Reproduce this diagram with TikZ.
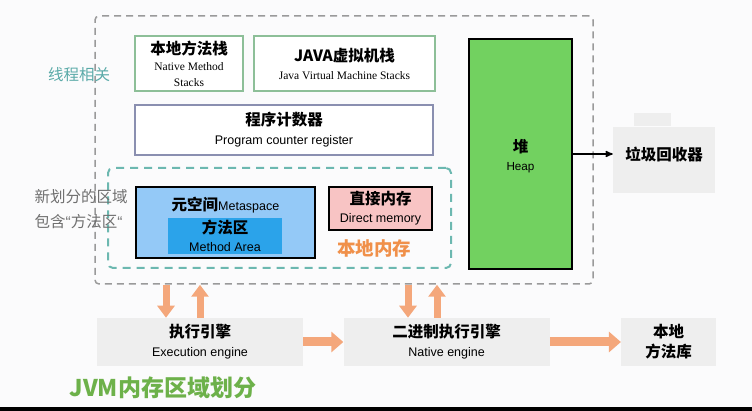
\documentclass[tikz,border=0pt]{standalone}
\usepackage{fontspec}
\setmainfont{Liberation Sans}
\newfontfamily\cjk{Noto Sans CJK SC}
\newfontfamily\tms{Liberation Serif}
\usepackage{xcolor}
\usetikzlibrary{arrows,arrows.meta}
\usetikzlibrary{calc}
\usetikzlibrary{positioning}

\definecolor{bgwhite}{HTML}{FBFBFC}
\definecolor{stackgreen}{HTML}{8DBF98}
\definecolor{pcpurple}{HTML}{8A8FB0}
\definecolor{dashgray}{HTML}{9A9A9A}
\definecolor{dashteal}{HTML}{6CB8B0}
\definecolor{metablue}{HTML}{94C9F7}
\definecolor{areablue}{HTML}{2BA3EA}
\definecolor{memopink}{HTML}{F8C4C4}
\definecolor{heapgreen}{HTML}{72D160}
\definecolor{boxgray}{HTML}{EEEEEE}
\definecolor{fatorange}{HTML}{F4A77B}
\definecolor{localorange}{HTML}{F0904A}
\definecolor{titlegreen}{HTML}{6DB14A}
\definecolor{threadteal}{HTML}{5AAAA8}
\definecolor{notegray}{HTML}{707070}

\begin{document}
\begin{tikzpicture}[x=1pt,y=-1pt,>=stealth',node distance=10pt,semithick]
	\tikzstyle{zh}=[font=\cjk\bfseries\fontsize{15.5}{17}\selectfont]
	\tikzstyle{grpbox}=[draw=dashgray, line width=1.5pt, dash pattern=on 7pt off 5pt, rounded corners=4pt, inner sep=0pt]
	\tikzstyle{localbox}=[draw=dashteal, line width=2pt, dash pattern=on 8pt off 6pt, rounded corners=5pt, inner sep=0pt]
	\tikzstyle{stackbox}=[zh, draw=stackgreen, line width=2pt, fill=white, inner sep=0pt, align=center]
	\tikzstyle{pcbox}=[zh, draw=pcpurple, line width=2pt, fill=white, inner sep=0pt, align=center]
	\tikzstyle{blackbox}=[zh, draw=black, line width=2pt, inner sep=0pt, align=center]
	\tikzstyle{grybox}=[zh, fill=boxgray, inner sep=0pt, align=center]
	\tikzstyle{fathoriz}=[draw=fatorange, line width=9pt, -{Triangle[width=20pt,length=12pt]}]
	\tikzstyle{fatvert}=[draw=fatorange, line width=7pt, -{Triangle[width=17pt,length=12pt]}]

	\fill[bgwhite] (0,0) rectangle (752,411);
	\useasboundingbox (0,0) rectangle (752,411);

	% runtime data area
	\node[grpbox, minimum width=498pt, minimum height=268pt] (JVM) at (344,150) {};
	\node[localbox, minimum width=343pt, minimum height=100pt] (Local) at (279.5,218) {};

	\node[stackbox, minimum width=108pt, minimum height=55pt] (NMS) at (189,63.5)
		{本地方法栈\\[-1pt]{\tms\mdseries\fontsize{11.5}{13}\selectfont Native Method}\\[-1pt]{\tms\mdseries\fontsize{11.5}{13}\selectfont Stacks}};
	\node[stackbox, minimum width=181pt, minimum height=55pt] (JVMS) [right=9pt of NMS]
		{JAVA虚拟机栈\\[1pt]{\tms\mdseries\fontsize{11.5}{13}\selectfont Java Virtual Machine Stacks}};
	\node[pcbox, minimum width=298pt, minimum height=50pt] (PC) at (284,130)
		{程序计数器\\[2pt]{\rmfamily\mdseries\fontsize{12.5}{15}\selectfont Program counter register}};

	\node[blackbox, fill=metablue, minimum width=179pt, minimum height=71pt] (Meta) at (225.5,222.5) {};
	\node[zh] (MetaT) at (225.5,205) {元空间{\rmfamily\mdseries\fontsize{12.5}{15}\selectfont Metaspace}};
	\node[zh, fill=areablue, inner sep=0pt, align=center, minimum width=114pt, minimum height=36pt] (MA) at (225,236)
		{方法区\\[1pt]{\rmfamily\mdseries\fontsize{12.5}{15}\selectfont Method Area}};
	\node[blackbox, fill=memopink, minimum width=103pt, minimum height=43pt] (DM) at (380.5,208.5)
		{直接内存\\[1pt]{\rmfamily\mdseries\fontsize{12.5}{15}\selectfont Direct memory}};
	\node[text=localorange, font=\cjk\bfseries\fontsize{18.5}{20}\selectfont] (LocalT) at (374,248) {本地内存};

	\node[blackbox, fill=heapgreen, minimum width=103pt, minimum height=230pt] (Heap) at (520.5,154) {};
	\node[zh, align=center] (HeapT) at (520.5,156)
		{堆\\[1pt]{\rmfamily\mdseries\fontsize{11.7}{14}\selectfont Heap}};

	% garbage collector
	\node[grybox, minimum width=102pt, minimum height=66pt] (GC) at (664,160) {};
	\node[fill=boxgray, inner sep=0pt, minimum width=37pt, minimum height=13pt, anchor=south west] (Tab) at ([xshift=21pt]GC.north west) {};
	\node[zh] (GCT) at (664,155) {垃圾回收器};
	\draw[->, line width=1.5pt] (Heap.east) -- (Heap.east -| GC.west);

	% side notes
	\node[text=threadteal, font=\cjk\fontsize{15.5}{18}\selectfont] (Thread) at (79,75) {线程相关};
	\node[text=notegray, font=\cjk\fontsize{15.5}{25}\selectfont, align=left, anchor=west] (Note) at (31,209.5)
		{新划分的区域\\包含{\rmfamily “}方法区{\rmfamily “}};

	% engines
	\node[grybox, minimum width=206pt, minimum height=48pt] (EE) at (200,342)
		{执行引擎\\[2pt]{\rmfamily\mdseries\fontsize{12.5}{15}\selectfont Execution engine}};
	\node[grybox, minimum width=206pt, minimum height=48pt] (NE) [right=40pt of EE]
		{二进制执行引擎\\[2pt]{\rmfamily\mdseries\fontsize{12.5}{15}\selectfont Native engine}};
	\node[grybox, minimum width=95pt, minimum height=48pt] (NL) [right=71pt of NE]
		{本地\\[3pt]方法库};

	\coordinate (d1) at (166,0);
	\coordinate (u1) at (200,0);
	\coordinate (d2) at (408,0);
	\coordinate (u2) at (437,0);
	\draw[fatvert] (JVM.south -| d1) -- (EE.north -| d1);
	\draw[fatvert] (EE.north -| u1) -- (JVM.south -| u1);
	\draw[fatvert] (JVM.south -| d2) -- (NE.north -| d2);
	\draw[fatvert] (NE.north -| u2) -- (JVM.south -| u2);
	\draw[fathoriz] (EE) -- (NE);
	\draw[fathoriz] (NE) -- (NL);

	\node[text=titlegreen, font=\cjk\bfseries\fontsize{23}{26}\selectfont, anchor=west] (Title) at (66,388) {JVM内存区域划分};
	\fill[black] (0,407) rectangle (752,411);
\end{tikzpicture}
\end{document}
